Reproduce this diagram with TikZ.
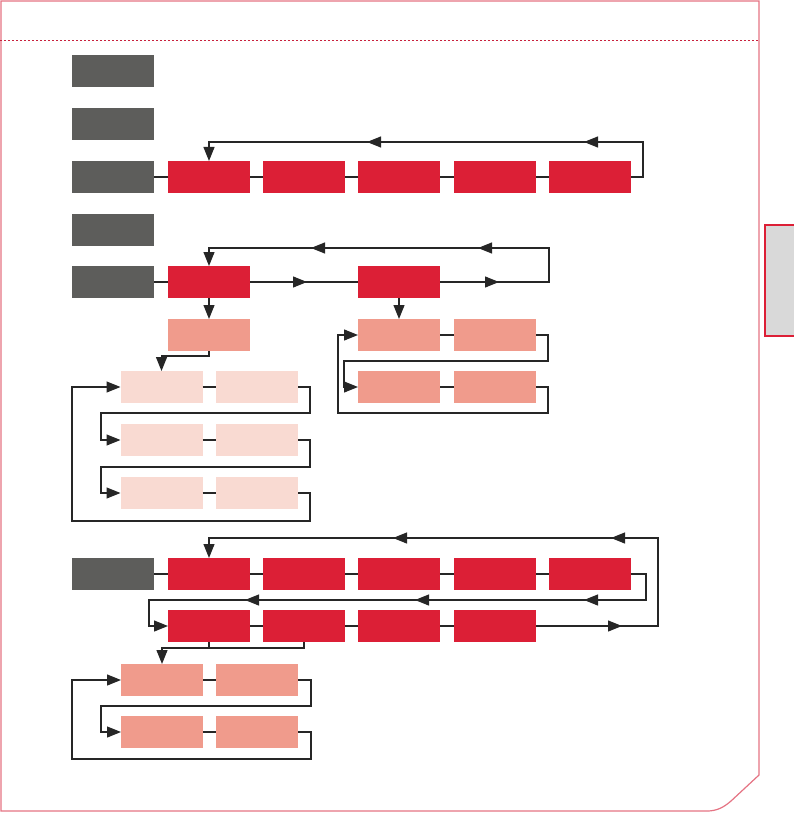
\documentclass[tikz,border=0pt]{standalone}
\usetikzlibrary{arrows.meta,decorations.markings}
\definecolor{boxgray}{HTML}{5D5D5B}
\definecolor{boxred}{HTML}{DC1F36}
\definecolor{boxsalmon}{HTML}{F09B8C}
\definecolor{boxpink}{HTML}{F9DAD2}
\definecolor{linedark}{HTML}{262626}
\definecolor{framepink}{HTML}{E57383}
\definecolor{tabgray}{HTML}{D9D9D9}
\definecolor{dotred}{HTML}{C8203C}
\newcommand\tipmark{\arrow{Triangle[length=14pt,width=11pt]}}
\begin{document}
\begin{tikzpicture}[x=1pt,y=-1pt,
  blk/.style={minimum width=82pt,minimum height=32pt,inner sep=0pt,outer sep=0pt},
  gbox/.style={blk,fill=boxgray},
  rbox/.style={blk,fill=boxred},
  sbox/.style={blk,fill=boxsalmon},
  pbox/.style={blk,fill=boxpink},
  conn/.style={draw=linedark,color=linedark,line width=1.2pt},
  arr/.style={conn,-{Triangle[length=14pt,width=11pt]}},
  mids/.style={postaction={decorate},decoration={markings,#1}}
]
\useasboundingbox (0,0) rectangle (794,813);
% frame
\draw[framepink,line width=1.2pt] (759,775) -- (759,1) -- (1,1) -- (1,811) -- (707,811)
  .. controls (716,811) and (723,808) .. (731,801) -- cycle;
\draw[dotred,line width=0.9pt,dash pattern=on 2pt off 2pt] (0,40) -- (759,40);
% side tab
\fill[tabgray] (765,225) rectangle (796,336);
\draw[boxred,line width=1.1pt] (796,225) -- (765,225) -- (765,336) -- (796,336);

% gray labels
\node[gbox] (g1) at (113,71.5) {};
\node[gbox] (g2) at (113,124) {};
\node[gbox] (g3) at (113,177) {};
\node[gbox] (g4) at (113,229.5) {};
\node[gbox] (g5) at (113,282) {};
\node[gbox] (g6) at (113,574) {};

% row 3
\node[rbox] (e1) at (209,177) {};
\node[rbox] (e2) at (304,177) {};
\node[rbox] (e3) at (399,177) {};
\node[rbox] (e4) at (495,177) {};
\node[rbox] (e5) at (590,177) {};
\draw[conn] (g3.east) -- (e1.west);
\draw[conn] (e1.east) -- (e2.west);
\draw[conn] (e2.east) -- (e3.west);
\draw[conn] (e3.east) -- (e4.west);
\draw[conn] (e4.east) -- (e5.west);
\draw[arr,mids={mark=at position 106pt with {\tipmark},mark=at position 323pt with {\tipmark}}]
  (e5.east) -- (643,177) -- (643,142) -- (209,142) -- (e1.north);

% row 5
\node[rbox] (b1) at (209,282) {};
\node[rbox] (b2) at (399,282) {};
\node[sbox] (c1) at (209,335) {};
\node[sbox] (d1) at (399,335) {};
\node[sbox] (d2) at (495,335) {};
\node[sbox] (d3) at (399,387) {};
\node[sbox] (d4) at (495,387) {};
\draw[conn] (g5.east) -- (b1.west);
\draw[conn,mids={mark=at position 57pt with {\tipmark}}] (b1.east) -- (b2.west);
\draw[arr,mids={mark=at position 59pt with {\tipmark},mark=at position 214pt with {\tipmark},mark=at position 381pt with {\tipmark}}]
  (b2.east) -- (549,282) -- (549,248) -- (209,248) -- (b1.north);
\draw[arr] (b1.south) -- (c1.north);
\draw[arr] (b2.south) -- (d1.north);
\draw[conn] (d1.east) -- (d2.west);
\draw[conn] (d3.east) -- (d4.west);
\draw[arr] (d2.east) -- (548,335) -- (548,361) -- (344,361) |- (d3.west);
\draw[arr] (d4.east) -- (548,387) -- (548,413) -- (338,413) |- (d1.west);

% pink block
\node[pbox] (p1) at (161.5,387) {};
\node[pbox] (p2) at (257,387) {};
\node[pbox] (p3) at (161.5,440) {};
\node[pbox] (p4) at (257,440) {};
\node[pbox] (p5) at (161.5,493) {};
\node[pbox] (p6) at (257,493) {};
\draw[arr] (c1.south) -- (209,356) -| (p1.north);
\draw[conn] (p1.east) -- (p2.west);
\draw[conn] (p3.east) -- (p4.west);
\draw[conn] (p5.east) -- (p6.west);
\draw[arr] (p2.east) -- (310,387) -- (310,413) -- (101,413) |- (p3.west);
\draw[arr] (p4.east) -- (310,440) -- (310,467) -- (101,467) |- (p5.west);
\draw[arr] (p6.east) -- (310,493) -- (310,521) -- (72,521) |- (p1.west);

% bottom section
\node[rbox] (r1) at (209,574) {};
\node[rbox] (r2) at (304,574) {};
\node[rbox] (r3) at (399,574) {};
\node[rbox] (r4) at (495,574) {};
\node[rbox] (r5) at (590,574) {};
\node[rbox] (q1) at (209,626) {};
\node[rbox] (q2) at (304,626) {};
\node[rbox] (q3) at (399,626) {};
\node[rbox] (q4) at (495,626) {};
\draw[conn] (g6.east) -- (r1.west);
\draw[conn] (r1.east) -- (r2.west);
\draw[conn] (r2.east) -- (r3.west);
\draw[conn] (r3.east) -- (r4.west);
\draw[conn] (r4.east) -- (r5.west);
\draw[conn] (q1.east) -- (q2.west);
\draw[conn] (q2.east) -- (q3.west);
\draw[conn] (q3.east) -- (q4.west);
\draw[arr,mids={mark=at position 103pt with {\tipmark},mark=at position 272pt with {\tipmark},mark=at position 442pt with {\tipmark}}]
  (r5.east) -- (646,574) -- (646,600) -- (149,600) |- (q1.west);
\draw[arr,mids={mark=at position 86pt with {\tipmark},mark=at position 257pt with {\tipmark},mark=at position 475pt with {\tipmark}}]
  (q4.east) -- (658,626) -- (658,538) -- (209,538) -- (r1.north);

\node[sbox] (s1) at (162,680) {};
\node[sbox] (s2) at (257,680) {};
\node[sbox] (s3) at (162,732) {};
\node[sbox] (s4) at (257,732) {};
\draw[conn] (q1.south) -- (209,648);
\draw[arr] (q2.south) -- (304,648) -| (s1.north);
\draw[conn] (s1.east) -- (s2.west);
\draw[conn] (s3.east) -- (s4.west);
\draw[arr] (s2.east) -- (311,680) -- (311,706) -- (101,706) |- (s3.west);
\draw[arr] (s4.east) -- (311,732) -- (311,759) -- (72,759) |- (s1.west);
\end{tikzpicture}
\end{document}
